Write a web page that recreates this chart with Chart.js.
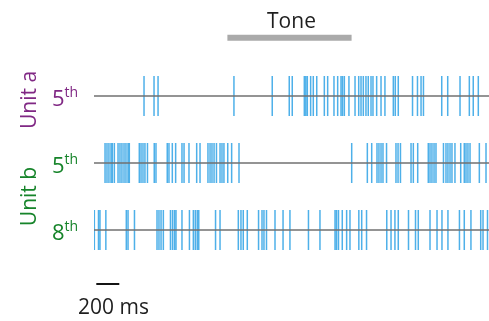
<!DOCTYPE html>
<html>
<head>
<meta charset="utf-8">
<script src="https://cdn.jsdelivr.net/npm/chart.js@4/dist/chart.umd.min.js"></script>
<style>
  html, body { margin: 0; padding: 0; background: #ffffff; }
  #wrap { width: 489px; height: 321px; }
</style>
</head>
<body>
<div id="wrap"><canvas id="c" width="489" height="321"></canvas></div>
<script>
// ---- data (spike times in ms) ----
const rowLabels = ["5", "5", "8"];
const unitLabels = ["Unit a", "Unit b"];
const unitASpikes5 = [435, 522, 557, 1217, 1550, 1698, 1724, 1829, 1842, 1855, 1884, 1907, 1937, 2003, 2032,
  2087, 2119, 2148, 2161, 2177, 2217, 2270, 2302, 2322, 2342, 2365, 2385, 2409, 2426, 2458, 2496, 2530,
  2603, 2620, 2646, 2770, 2813, 2844, 2865, 3024, 3076, 3183, 3264, 3298, 3342];
const unitBSpikes5 = [96, 113, 130, 148, 159, 177, 209, 226, 243, 261, 278, 296, 307, 394, 409, 426, 443, 465,
  524, 539, 637, 652, 681, 710, 765, 783, 826, 893, 922, 991, 1009, 1026, 1044, 1065, 1096, 1113, 1130,
  1163, 1197, 1261, 2241, 2377, 2415, 2461, 2478, 2496, 2513, 2544, 2626, 2644, 2665, 2757, 2777, 2815,
  2907, 2922, 2939, 2957, 2974, 3039, 3061, 3078, 3096, 3113, 3139, 3189, 3220, 3235, 3252, 3270, 3351, 3409];
const unitBSpikes8 = [3, 39, 52, 103, 281, 296, 352, 548, 565, 583, 603, 665, 683, 700, 713, 765, 830, 864,
  881, 898, 911, 1057, 1096, 1255, 1278, 1298, 1333, 1431, 1461, 1478, 1500, 1574, 1644, 1704, 1865, 1965,
  2096, 2109, 2126, 2159, 2197, 2226, 2303, 2328, 2370, 2546, 2583, 2617, 2646, 2735, 2796, 2820, 2922,
  2983, 3026, 3078, 3178, 3220, 3278, 3363, 3383, 3422];
const toneStart = 1160;
const toneEnd = 2240;
const scaleBarStart = 20;
const scaleBarLength = 200;
const timeMax = 3435;

// ---- styles ----
const spikeColor = "rgba(10,145,225,0.72)";
const baseColor = "rgb(112,112,112)";
const purple = "rgb(128,40,132)";
const green = "rgb(22,132,42)";
const rows = [unitASpikes5, unitBSpikes5, unitBSpikes8];
const rowColors = [purple, green, green];

const datasets = [];
rows.forEach((spikes, r) => {
  datasets.push({
    type: "line",
    data: [{x: 0, y: r}, {x: timeMax, y: r}],
    borderColor: baseColor,
    borderWidth: 1.3,
    pointRadius: 0,
    clip: false
  });
});
rows.forEach((spikes, r) => {
  datasets.push({
    type: "scatter",
    data: spikes.map(t => ({x: t, y: r})),
    pointStyle: "line",
    rotation: 90,
    radius: 20,
    borderColor: spikeColor,
    backgroundColor: spikeColor,
    borderWidth: 1.5
  });
});
datasets.push({
  type: "line",
  data: [{x: toneStart, y: -0.87}, {x: toneEnd, y: -0.87}],
  borderColor: "rgb(170,170,170)",
  borderWidth: 6,
  pointRadius: 0,
  borderCapStyle: "butt",
  clip: false
});
datasets.push({
  type: "line",
  data: [{x: scaleBarStart, y: 2.806}, {x: scaleBarStart + scaleBarLength, y: 2.806}],
  borderColor: "rgb(20,20,20)",
  borderWidth: 2,
  pointRadius: 0,
  borderCapStyle: "butt",
  clip: false
});

const textPlugin = {
  id: "texts",
  afterDraw(chart) {
    const ctx = chart.ctx;
    const xs = chart.scales.x, ys = chart.scales.y;
    ctx.save();
    rowLabels.forEach((lab, r) => {
      const y = ys.getPixelForValue(r);
      ctx.fillStyle = rowColors[r];
      ctx.font = "22px 'Open Sans'";
      ctx.textAlign = "left";
      ctx.textBaseline = "alphabetic";
      ctx.fillText(lab, 52, y + 10);
      const w = ctx.measureText(lab).width;
      ctx.font = "14px 'Open Sans'";
      ctx.fillText("th", 52 + w, y + 1);
    });
    const unitCenters = [(ys.getPixelForValue(0)) + 4, (ys.getPixelForValue(1) + ys.getPixelForValue(2)) / 2];
    const unitColors = [purple, green];
    unitLabels.forEach((lab, i) => {
      ctx.save();
      ctx.translate(36, unitCenters[i]);
      ctx.rotate(-Math.PI / 2);
      ctx.fillStyle = unitColors[i];
      ctx.font = "21px 'Open Sans'";
      ctx.textAlign = "center";
      ctx.textBaseline = "alphabetic";
      ctx.fillText(lab, 0, 0);
      ctx.restore();
    });
    ctx.fillStyle = "rgb(30,30,30)";
    ctx.font = "21px 'Open Sans'";
    ctx.textAlign = "center";
    ctx.fillText("Tone", (xs.getPixelForValue(toneStart) + xs.getPixelForValue(toneEnd)) / 2 + 2, 28);
    ctx.textAlign = "left";
    ctx.fillText("200 ms", 78, 314);
    ctx.restore();
  }
};

new Chart(document.getElementById("c"), {
  type: "scatter",
  data: { datasets },
  options: {
    responsive: false,
    animation: false,
    devicePixelRatio: 1,
    layout: { autoPadding: false, padding: { left: 94, right: 0, top: 62.5, bottom: 57.5 } },
    plugins: { legend: { display: false }, tooltip: { enabled: false } },
    scales: {
      x: { type: "linear", min: 0, max: timeMax, display: false },
      y: { type: "linear", min: -0.5, max: 2.5, reverse: true, display: false }
    }
  },
  plugins: [textPlugin]
});
</script>
</body>
</html>
